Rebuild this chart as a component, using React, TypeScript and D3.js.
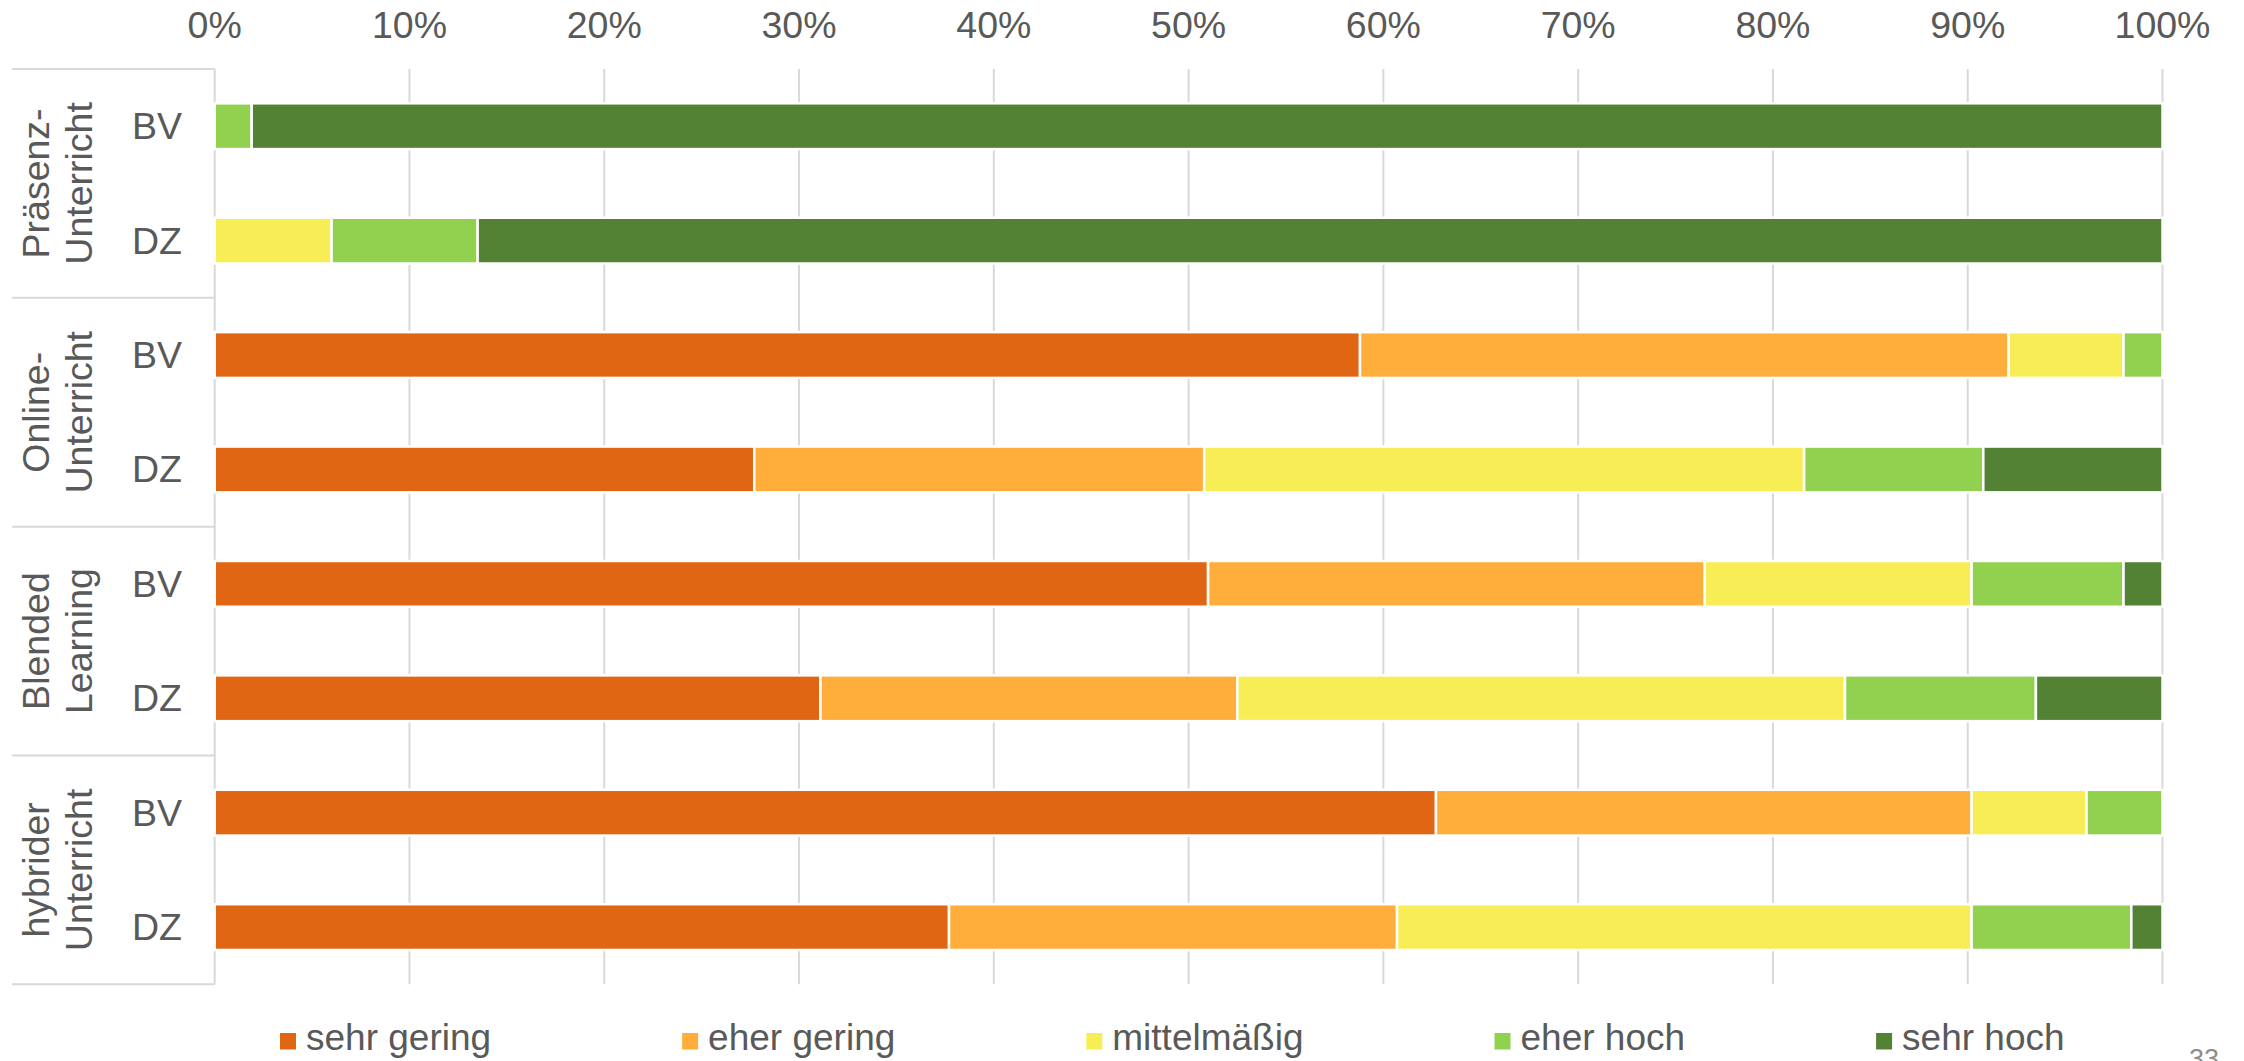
import React, { useEffect, useRef } from "react";
import * as d3 from "d3";

// ---- data ----
const groupLabels: string[][] = [
  ["Präsenz-", "Unterricht"],
  ["Online-", "Unterricht"],
  ["Blended", "Learning"],
  ["hybrider", "Unterricht"],
];
const subLabels = ["BV", "DZ"];
const levels = ["sehr gering", "eher gering", "mittelmäßig", "eher hoch", "sehr hoch"];
const levelColors = ["#E06614", "#FFAE3B", "#F7EE55", "#92D150", "#538235"];

// rows in order: Präsenz BV, Präsenz DZ, Online BV, Online DZ, Blended BV, Blended DZ, hybrid BV, hybrid DZ
const sehrGering = [0, 0, 58.8, 27.7, 51.0, 31.1, 62.7, 37.7];
const eherGering = [0, 0, 33.3, 23.1, 25.5, 21.4, 27.5, 23.0];
const mittelmaessig = [0, 6.0, 5.9, 30.8, 13.7, 31.2, 5.9, 29.5];
const eherHoch = [1.9, 7.5, 2.0, 9.2, 7.8, 9.8, 3.9, 8.2];
const sehrHoch = [98.1, 86.5, 0, 9.2, 2.0, 6.5, 0, 1.6];

const tickValues = [0, 10, 20, 30, 40, 50, 60, 70, 80, 90, 100];
const pageNumber = "33";

const W = 2244;
const H = 1061;
const FONT = "'Liberation Sans', Arial, sans-serif";
const TEXT = "#595959";
const GRID = "#D9D9D9";

export default function App() {
  const ref = useRef<SVGSVGElement | null>(null);

  useEffect(() => {
    const svg = d3.select(ref.current);
    svg.selectAll("*").remove();

    const seriesArrays = [sehrGering, eherGering, mittelmaessig, eherHoch, sehrHoch];
    const rowKeys: string[] = [];
    const table: any[] = [];
    groupLabels.forEach((g, gi) => {
      subLabels.forEach((s, si) => {
        const idx = gi * subLabels.length + si;
        const key = `${gi}|${s}`;
        rowKeys.push(key);
        const row: any = { key, sub: s, group: gi };
        levels.forEach((lv, li) => (row[lv] = seriesArrays[li][idx]));
        table.push(row);
      });
    });

    const x = d3.scaleLinear().domain([0, 100]).range([214.7, 2162.5]);
    const top = 69;
    const bottom = 984.3;
    const y = d3
      .scaleBand<string>()
      .domain(rowKeys)
      .range([top, bottom])
      .paddingInner(0.6)
      .paddingOuter(0.3);
    const color = d3.scaleOrdinal<string, string>().domain(levels).range(levelColors);

    const g = svg.append("g");

    // gridlines
    g.selectAll("line.grid")
      .data(tickValues)
      .join("line")
      .attr("x1", (d) => x(d))
      .attr("x2", (d) => x(d))
      .attr("y1", top)
      .attr("y2", bottom)
      .attr("stroke", GRID)
      .attr("stroke-width", 2);

    // group separators on the left
    const groupSpan = (bottom - top) / groupLabels.length;
    const sepYs = d3.range(groupLabels.length + 1).map((i) => top + i * groupSpan);
    g.selectAll("line.sep")
      .data(sepYs)
      .join("line")
      .attr("x1", 12)
      .attr("x2", x(0))
      .attr("y1", (d) => d)
      .attr("y2", (d) => d)
      .attr("stroke", GRID)
      .attr("stroke-width", 2);

    // tick labels
    g.selectAll("text.tick")
      .data(tickValues)
      .join("text")
      .attr("x", (d) => x(d))
      .attr("y", 37.5)
      .attr("text-anchor", "middle")
      .attr("font-family", FONT)
      .attr("font-size", 37.5)
      .attr("fill", TEXT)
      .text((d) => `${d}%`);

    // stacked bars
    const stacked = d3.stack<any>().keys(levels)(table);
    g.selectAll("g.layer")
      .data(stacked)
      .join("g")
      .attr("fill", (d) => color(d.key))
      .selectAll("rect")
      .data((d) => d.filter((p) => p[1] - p[0] > 0))
      .join("rect")
      .attr("x", (d) => x(d[0]))
      .attr("width", (d) => x(d[1]) - x(d[0]))
      .attr("y", (d) => y(d.data.key)!)
      .attr("height", y.bandwidth())
      .attr("stroke", "#FFFFFF")
      .attr("stroke-width", 2.5);

    // sub labels (BV / DZ)
    g.selectAll("text.sub")
      .data(table)
      .join("text")
      .attr("x", 182)
      .attr("y", (d) => y(d.key)! + y.bandwidth() / 2 + 13)
      .attr("text-anchor", "end")
      .attr("font-family", FONT)
      .attr("font-size", 37.5)
      .attr("fill", TEXT)
      .text((d) => d.sub);

    // group labels (rotated, two lines)
    groupLabels.forEach((lines, gi) => {
      const cy = top + (gi + 0.5) * groupSpan;
      lines.forEach((line, li) => {
        const bx = 48.5 + li * 43;
        g.append("text")
          .attr("transform", `translate(${bx},${cy}) rotate(-90)`)
          .attr("text-anchor", "middle")
          .attr("font-family", FONT)
          .attr("font-size", 37.5)
          .attr("fill", TEXT)
          .text(line);
      });
    });

    // legend
    const legend = g.append("g");
    let lx = 280;
    const baseline = 1050;
    levels.forEach((lv) => {
      legend
        .append("rect")
        .attr("x", lx)
        .attr("y", 1033)
        .attr("width", 16)
        .attr("height", 16.5)
        .attr("fill", color(lv));
      const t = legend
        .append("text")
        .attr("x", lx + 26)
        .attr("y", baseline)
        .attr("font-family", FONT)
        .attr("font-size", 37)
        .attr("fill", TEXT)
        .text(lv);
      const tw = (t.node() as SVGTextElement).getComputedTextLength();
      lx = lx + 26 + tw + 191;
    });

    // page number (cut off at bottom)
    g.append("text")
      .attr("x", 2189)
      .attr("y", 1068)
      .attr("font-family", FONT)
      .attr("font-size", 27)
      .attr("fill", "#8C8C8C")
      .text(pageNumber);
  }, []);

  return (
    <svg
      ref={ref}
      width={W}
      height={H}
      viewBox={`0 0 ${W} ${H}`}
      style={{ position: "absolute", left: 0, top: 0, display: "block", background: "#FFFFFF" }}
    />
  );
}
